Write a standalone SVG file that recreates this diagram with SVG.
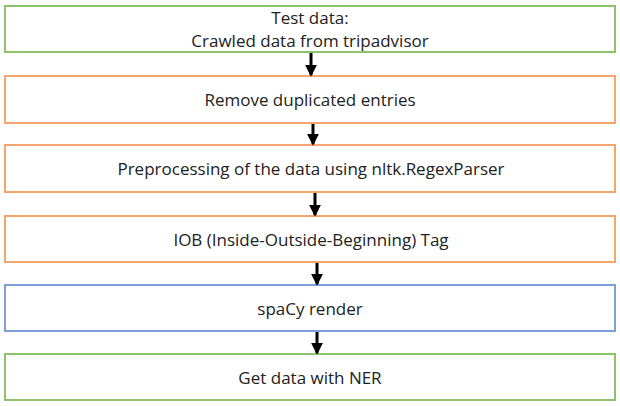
<svg xmlns="http://www.w3.org/2000/svg" width="620" height="406" viewBox="0 0 620 406">
<style>
.box{fill:#fff;stroke-width:2}
.g{stroke:#8cc36c}
.o{stroke:#f5a66e}
.b{stroke:#7f9fd8}
text{font-family:"Open Sans","Liberation Sans",sans-serif;font-size:17px;fill:#222;text-anchor:middle}
.conn line{stroke:#000;stroke-width:3}
</style>
<defs>
<marker id="ah" markerWidth="4" markerHeight="4" refX="3.4" refY="2" orient="auto" markerUnits="strokeWidth">
<path d="M0,0 L4,2 L0,4 Z" fill="#000"/>
</marker>
</defs>
<rect width="620" height="406" fill="#fff"/>
<g id="n1"><rect class="box g" x="5" y="6" width="610" height="46"/><text x="310" y="24">Test data:</text><text x="310" y="47">Crawled data from tripadvisor</text></g>
<g id="n2"><rect class="box o" x="5" y="76" width="610" height="47"/><text x="310" y="106">Remove duplicated entries</text></g>
<g id="n3"><rect class="box o" x="5" y="145" width="610" height="47"/><text x="311" y="175">Preprocessing of the data using nltk.RegexParser</text></g>
<g id="n4"><rect class="box o" x="5" y="216" width="610" height="46"/><text x="311" y="245.5">IOB (Inside-Outside-Beginning) Tag</text></g>
<g id="n5"><rect class="box b" x="5" y="285" width="610" height="46"/><text x="310" y="314.5">spaCy render</text></g>
<g id="n6"><rect class="box g" x="5" y="354" width="610" height="46"/><text x="310" y="383.5">Get data with NER</text></g>
<g class="conn">
<line x1="311" y1="53" x2="311" y2="75" marker-end="url(#ah)"/>
<line x1="313" y1="124" x2="313" y2="144" marker-end="url(#ah)"/>
<line x1="315" y1="193" x2="315" y2="215" marker-end="url(#ah)"/>
<line x1="317" y1="263" x2="317" y2="284" marker-end="url(#ah)"/>
<line x1="317" y1="332" x2="317" y2="353" marker-end="url(#ah)"/>
</g>
</svg>
